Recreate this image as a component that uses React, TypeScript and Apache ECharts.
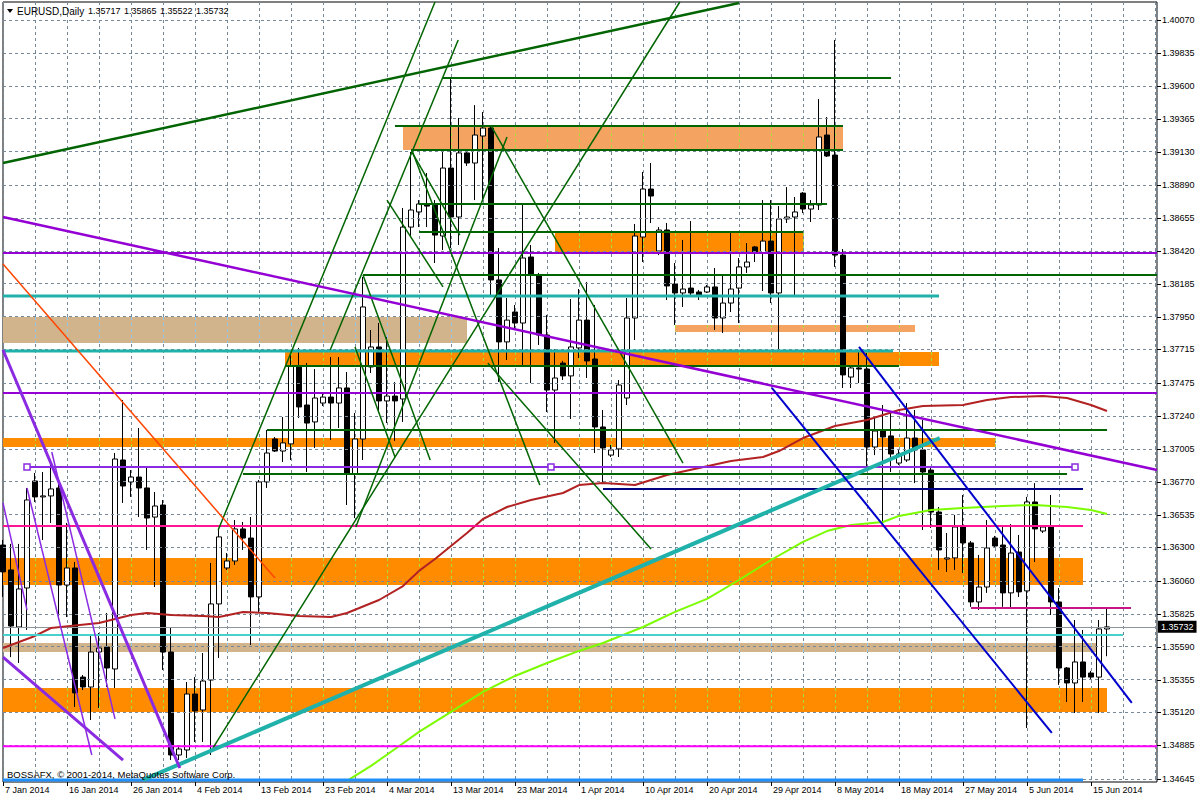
import React, { useEffect, useRef } from "react";
import * as echarts from "echarts";

const FONT = "Liberation Sans";

// date labels, one every 8 daily bars (Sunday bars included)
const dateLabels = ["7 Jan 2014", "16 Jan 2014", "26 Jan 2014", "4 Feb 2014", "13 Feb 2014", "23 Feb 2014", "4 Mar 2014", "13 Mar 2014", "23 Mar 2014", "1 Apr 2014", "10 Apr 2014", "20 Apr 2014", "29 Apr 2014", "8 May 2014", "18 May 2014", "27 May 2014", "5 Jun 2014", "15 Jun 2014"];

const priceTicks = [1.4007, 1.39835, 1.396, 1.39365, 1.3913, 1.3889, 1.38655, 1.3842, 1.38185, 1.3795, 1.37715, 1.37475, 1.3724, 1.37005, 1.3677, 1.36535, 1.363, 1.3606, 1.35825, 1.3559, 1.35355, 1.3512, 1.34885, 1.34645];

const opens = [1.36317, 1.36139, 1.35731, 1.3601, 1.36775, 1.36661, 1.36668, 1.36725, 1.36031, 1.36153, 1.35373, 1.35302, 1.35552, 1.35588, 1.35431, 1.36925, 1.36768, 1.36803, 1.36725, 1.36517, 1.36603, 1.35552, 1.34816, 1.34852, 1.35252, 1.35138, 1.35352, 1.35896, 1.36153, 1.36203, 1.36432, 1.36367, 1.35946, 1.36768, 1.37075, 1.36989, 1.3704, 1.37597, 1.37318, 1.37197, 1.37332, 1.37375, 1.37332, 1.3744, 1.36825, 1.37075, 1.3759, 1.37733, 1.37347, 1.37382, 1.37361, 1.3859, 1.38698, 1.38748, 1.38755, 1.38526, 1.39012, 1.38662, 1.3912, 1.39048, 1.39241, 1.39298, 1.38212, 1.37769, 1.37983, 1.37904, 1.38376, 1.38247, 1.37818, 1.37425, 1.37618, 1.37526, 1.37726, 1.37925, 1.37647, 1.37161, 1.3696, 1.37004, 1.37368, 1.3794, 1.38519, 1.38862, 1.38419, 1.38569, 1.38183, 1.38119, 1.38154, 1.38126, 1.38126, 1.38162, 1.3794, 1.38047, 1.38154, 1.38305, 1.38448, 1.38405, 1.3849, 1.38119, 1.38648, 1.38662, 1.38833, 1.38719, 1.38748, 1.39248, 1.39105, 1.3839, 1.37518, 1.37583, 1.37575, 1.37018, 1.37132, 1.37097, 1.36903, 1.36925, 1.37082, 1.36997, 1.36853, 1.36553, 1.36217, 1.36225, 1.36446, 1.36332, 1.3591, 1.36017, 1.36367, 1.36317, 1.35975, 1.36267, 1.35989, 1.36625, 1.36417, 1.36446, 1.3591, 1.35438, 1.35331, 1.35481, 1.35402, 1.35373, 1.35717];
const closes = [1.36125, 1.35738, 1.36003, 1.36639, 1.36661, 1.36668, 1.36718, 1.36031, 1.36153, 1.3526, 1.35302, 1.35552, 1.35581, 1.35438, 1.36932, 1.36739, 1.36803, 1.36725, 1.3651, 1.36596, 1.35552, 1.34816, 1.34859, 1.35252, 1.35131, 1.35345, 1.35896, 1.36375, 1.36203, 1.36432, 1.36367, 1.35946, 1.36768, 1.36975, 1.36989, 1.37047, 1.37597, 1.37304, 1.37189, 1.37368, 1.37375, 1.37332, 1.3744, 1.36825, 1.37075, 1.38019, 1.37733, 1.37347, 1.37382, 1.37347, 1.3859, 1.38712, 1.38755, 1.3874, 1.38533, 1.39012, 1.38662, 1.3912, 1.39048, 1.39248, 1.39298, 1.38212, 1.37769, 1.37925, 1.37904, 1.38369, 1.38247, 1.37818, 1.37425, 1.37511, 1.37526, 1.37733, 1.37925, 1.37633, 1.37161, 1.37011, 1.36997, 1.37461, 1.3794, 1.38526, 1.38862, 1.38812, 1.38569, 1.38169, 1.38119, 1.38147, 1.38119, 1.38104, 1.38162, 1.3794, 1.38047, 1.38147, 1.38305, 1.3834, 1.38405, 1.3849, 1.38119, 1.38648, 1.38662, 1.38698, 1.38719, 1.38748, 1.39234, 1.39098, 1.3839, 1.37533, 1.37583, 1.37575, 1.37018, 1.37132, 1.37089, 1.36968, 1.36968, 1.37082, 1.36997, 1.36839, 1.36553, 1.36282, 1.36225, 1.36446, 1.36332, 1.3591, 1.36017, 1.36296, 1.3631, 1.35975, 1.3626, 1.35982, 1.36625, 1.36432, 1.36446, 1.3591, 1.35438, 1.35331, 1.35481, 1.35373, 1.35373, 1.35717, 1.35732];
const highs = [1.36353, 1.36325, 1.36325, 1.36725, 1.36832, 1.36839, 1.36925, 1.36782, 1.36475, 1.36196, 1.35388, 1.35674, 1.35688, 1.35831, 1.36975, 1.37354, 1.36853, 1.37154, 1.36868, 1.36696, 1.36639, 1.35724, 1.34887, 1.35338, 1.35373, 1.35545, 1.36189, 1.36439, 1.3626, 1.36496, 1.36482, 1.36517, 1.36782, 1.37139, 1.37089, 1.37232, 1.37675, 1.37726, 1.37618, 1.37575, 1.37404, 1.37661, 1.37661, 1.37554, 1.37261, 1.38233, 1.37854, 1.37904, 1.37804, 1.37482, 1.38726, 1.39127, 1.38783, 1.38976, 1.38783, 1.39141, 1.39655, 1.3937, 1.39127, 1.39462, 1.39412, 1.39312, 1.3844, 1.38083, 1.38033, 1.38748, 1.38462, 1.38262, 1.37961, 1.37718, 1.37633, 1.38076, 1.38147, 1.38197, 1.38033, 1.37282, 1.37032, 1.37497, 1.38083, 1.38612, 1.38984, 1.39048, 1.3859, 1.38619, 1.38333, 1.38498, 1.38633, 1.3814, 1.38176, 1.38297, 1.38247, 1.38548, 1.38369, 1.38476, 1.38455, 1.38783, 1.38783, 1.3874, 1.38876, 1.38805, 1.3884, 1.38783, 1.39505, 1.39377, 1.39927, 1.38433, 1.37597, 1.37697, 1.3769, 1.37225, 1.37318, 1.37261, 1.37004, 1.37332, 1.37282, 1.37211, 1.36875, 1.36589, 1.36403, 1.36532, 1.36675, 1.36346, 1.36246, 1.36496, 1.36382, 1.3646, 1.36467, 1.36389, 1.36661, 1.3676, 1.3646, 1.36675, 1.3601, 1.35445, 1.35781, 1.3571, 1.35417, 1.35781, 1.35865];
const lows = [1.35946, 1.35516, 1.35474, 1.3571, 1.36625, 1.36353, 1.36475, 1.35781, 1.35802, 1.35159, 1.35281, 1.35066, 1.35152, 1.35302, 1.35295, 1.36618, 1.36661, 1.36517, 1.36282, 1.36017, 1.35424, 1.3478, 1.3478, 1.34795, 1.34909, 1.34909, 1.34816, 1.3551, 1.36139, 1.36175, 1.36282, 1.35602, 1.35831, 1.36725, 1.36982, 1.36911, 1.36925, 1.37225, 1.36839, 1.37011, 1.37311, 1.37068, 1.37154, 1.36603, 1.3651, 1.36925, 1.37547, 1.37261, 1.37189, 1.37061, 1.37197, 1.38526, 1.3859, 1.3859, 1.38333, 1.38426, 1.3844, 1.38462, 1.39027, 1.38783, 1.38783, 1.38104, 1.37482, 1.3764, 1.37854, 1.37604, 1.37475, 1.37747, 1.37268, 1.37047, 1.37497, 1.37218, 1.37654, 1.37511, 1.36975, 1.36768, 1.36946, 1.36946, 1.37318, 1.37783, 1.3834, 1.38619, 1.3839, 1.38069, 1.3789, 1.38019, 1.38104, 1.38069, 1.38119, 1.37854, 1.37833, 1.37983, 1.37904, 1.38262, 1.3834, 1.38133, 1.38047, 1.37711, 1.38619, 1.38104, 1.3869, 1.38626, 1.38712, 1.39091, 1.38305, 1.3744, 1.3744, 1.37475, 1.36875, 1.3696, 1.3646, 1.36839, 1.36889, 1.36911, 1.3676, 1.36425, 1.36439, 1.36139, 1.36125, 1.36139, 1.36117, 1.35875, 1.35853, 1.35975, 1.36296, 1.35875, 1.35867, 1.35946, 1.35009, 1.36196, 1.36403, 1.35817, 1.35317, 1.35195, 1.35116, 1.35195, 1.35352, 1.35116, 1.35522];

// moving averages read at selected bars: [bar, price]
const maRed = [[0, 1.35581], [4, 1.35667], [6, 1.35724], [12, 1.3576], [16, 1.35817], [18, 1.35831], [21, 1.35817], [25, 1.3581], [27, 1.35802], [30, 1.35839], [33, 1.35831], [37, 1.3581], [41, 1.35802], [43, 1.35831], [47, 1.35924], [50, 1.36024], [52, 1.36132], [54, 1.36217], [56, 1.3631], [58, 1.36403], [60, 1.36503], [63, 1.36589], [66, 1.36639], [70, 1.36689], [72, 1.36746], [75, 1.3676], [79, 1.36746], [83, 1.36818], [87, 1.36868], [91, 1.36918], [95, 1.36946], [97, 1.36989], [100, 1.37082], [104, 1.37168], [108, 1.37211], [112, 1.37282], [115, 1.37311], [120, 1.37318], [123, 1.37354], [126, 1.37375], [130, 1.37382], [133, 1.37368], [136, 1.37318], [138, 1.37275]];
const maGreen = [[43, 1.34631], [46, 1.34738], [49, 1.34859], [52, 1.34981], [56, 1.35124], [60, 1.35267], [64, 1.35381], [68, 1.35474], [72, 1.3556], [75, 1.35617], [80, 1.35731], [84, 1.35839], [88, 1.35932], [92, 1.36067], [96, 1.3621], [100, 1.36339], [103, 1.36417], [106, 1.3646], [110, 1.36482], [112, 1.36525], [116, 1.36568], [120, 1.36582], [125, 1.36596], [129, 1.36603], [131, 1.36596], [133, 1.36589], [136, 1.36568], [138, 1.36539]];

// zones: [top price, bottom price, from bar, to bar]
const orangeZones = [[1.38548, 1.38412, 69, 100], [1.37697, 1.37597, 35.25, 117], [1.37082, 1.37018, 0, 124], [1.36225, 1.36031, 0, 135], [1.35295, 1.35124, 0, 138]];
const tanZones = [[1.37947, 1.37761, 0, 58], [1.35617, 1.35553, 0, 136.75]];
const sandyZones = [[1.39305, 1.39141, 50, 105], [1.3789, 1.3784, 84, 114]];

// horizontal levels: [price, from bar, to bar]
const greenLevels = [[1.39655, 55, 111], [1.39312, 49, 105], [1.39141, 51, 105], [1.38755, 52, 103], [1.38555, 52, 100], [1.38247, 45, 144.25], [1.37597, 35.25, 112], [1.37139, 33, 138], [1.36825, 30, 133]];
const violetLevels = [[1.38405, 0, 144.25], [1.37404, 0, 144.25]];
const seaGreenLevels = [[1.38097, 0, 117], [1.37704, 0, 111.25]];
const turquoiseLevels = [[1.35674, 0, 140]];
const pinkLevels = [[1.36453, 0, 135]];
const crimsonLevels = [[1.35867, 121, 141]];
const navyLevels = [[1.36718, 75, 135]];
const magentaLevels = [[1.34878, 0, 144.25]];
const blueLevels = [[1.34638, 0, 135]];
const markedLevel = [[3, 1.36875], [68.5, 1.36875], [134, 1.36875]];

// trend lines: [[bar, price], [bar, price]]
const greenTrends = [
  [[26.25, 1.34867], [84.6, 1.40199]],
  [[26.9, 1.36425], [54, 1.40199]],
  [[40.9, 1.37711], [56.9, 1.39927]],
  [[61.1, 1.39305], [85, 1.36903]],
  [[51.1, 1.39141], [67.1, 1.36746]],
  [[44.1, 1.36446], [63, 1.39234]],
  [[51.1, 1.39127], [57.1, 1.38533]],
  [[48, 1.38783], [55, 1.38162]],
  [[45, 1.38247], [53.4, 1.36925]],
  [[44, 1.37733], [49, 1.36946]],
  [[60.6, 1.37618], [81, 1.36289]],
];
const wideGreenTrends = [[[0, 1.39048], [92, 1.40192]]];
const violetTrends = [[[0, 1.38662], [144.25, 1.36853]]];
const orangeRedTrends = [[[0, 1.38326], [34, 1.36081]]];
const seaGreenTrends = [[[17.5, 1.34638], [117.1, 1.37082]]];
const blueTrends = [[[96.1, 1.3744], [131.1, 1.34974]], [[107, 1.37733], [141.1, 1.35188]]];
const purpleThick = [[[0, 1.37711], [22.1, 1.34723]], [[0, 1.35516], [15, 1.3478]]];
const purpleThin = [[[0, 1.36618], [3, 1.35853]], [[3, 1.36725], [11.1, 1.34816]], [[6.1, 1.36982], [14, 1.35074]]];

const X_MAX = 144.25;
const Y_MIN = 1.34623;
const Y_MAX = 1.40199;

function lineS(data: any[], color: string, width: number, z = 7, extra: any = {}) {
  return { type: "line", data, symbol: "none", silent: true, z, animation: false, lineStyle: { color, width }, ...extra };
}

export default function App() {
  const ref = useRef<HTMLDivElement>(null);
  useEffect(() => {
    if (!ref.current) return;
    const chart = echarts.init(ref.current, undefined, { renderer: "svg" });
    const n = opens.length;
    const candles = opens.map((o, i) => [i, o, closes[i], lows[i], highs[i]]);
    const series: any[] = [];

    // grid lines + price scale labels + current price
    series.push({
      type: "line", data: [], silent: true, z: 1, animation: false,
      markLine: {
        symbol: "none", silent: true, animation: false, precision: 5,
        lineStyle: { color: "#778899", type: [3, 3], width: 1 },
        label: { position: "end", distance: 5, fontSize: 9, color: "#000", fontFamily: FONT, formatter: (p: any) => Number(p.value).toFixed(5) },
        data: [
          ...priceTicks.map((v) => ({ yAxis: v })),
          {
            yAxis: closes[n - 1],
            lineStyle: { color: "#8c959e", type: "solid", width: 1 },
            label: { position: "end", distance: 1, backgroundColor: "#000", color: "#fff", padding: [2, 3, 1, 3], fontSize: 9, fontFamily: FONT, formatter: (p: any) => Number(p.value).toFixed(5) },
          },
        ],
      },
    });

    // small scale ticks outside the plot (price scale and date scale)
    series.push({
      type: "custom", data: priceTicks.map((v) => [X_MAX, v]), z: 1, silent: true, animation: false, clip: false,
      encode: { x: 0, y: 1 },
      renderItem: (params: any, api: any) => {
        const p = api.coord([api.value(0), api.value(1)]);
        const y = Math.round(p[1]) + 0.5;
        return { type: "line", shape: { x1: p[0], y1: y, x2: p[0] + 4, y2: y }, style: { stroke: "#000", lineWidth: 1 } };
      },
    });
    series.push({
      type: "custom", data: dateLabels.map((_, i) => [i * 8, Y_MIN]), z: 1, silent: true, animation: false, clip: false,
      encode: { x: 0, y: 1 },
      renderItem: (params: any, api: any) => {
        const p = api.coord([api.value(0), api.value(1)]);
        const x = Math.round(p[0]) + 0.5;
        return { type: "line", shape: { x1: x, y1: p[1], x2: x, y2: p[1] + 4 }, style: { stroke: "#000", lineWidth: 1 } };
      },
    });

    const zoneItems = (zs: number[][], color: string) =>
      zs.map((z) => [{ xAxis: z[2], yAxis: z[0], itemStyle: { color, opacity: 1 } }, { xAxis: z[3], yAxis: z[1] }]);
    series.push({
      type: "line", data: [], silent: true, z: 2, animation: false,
      markArea: {
        silent: true, animation: false, precision: 5,
        data: [...zoneItems(orangeZones, "#FF8C00"), ...zoneItems(tanZones, "#D2B48C"), ...zoneItems(sandyZones, "#F4A460")],
      },
    });

    // grid dashes seen through the zones (the terminal draws them inverted)
    const zoneGridData = [
      ...orangeZones.map((z) => [z[2], z[3], z[0], z[1], 0]),
      ...sandyZones.map((z) => [z[2], z[3], z[0], z[1], 0]),
      ...tanZones.map((z) => [z[2], z[3], z[0], z[1], 1]),
    ];
    series.push({
      type: "custom", data: zoneGridData, z: 3, silent: true, animation: false,
      encode: { x: [0, 1], y: [2, 3] },
      renderItem: (params: any, api: any) => {
        const k1 = api.value(0), k2 = api.value(1), top = api.value(2), bot = api.value(3);
        const color = api.value(4) === 1 ? "#8fc8f0" : "#a8e040";
        const children: any[] = [];
        for (let g = Math.max(4, Math.ceil(k1 / 4) * 4); g <= k2; g += 4) {
          const a = api.coord([g, top]);
          const b = api.coord([g, bot]);
          children.push({ type: "line", shape: { x1: Math.round(a[0]) + 0.5, y1: a[1], x2: Math.round(b[0]) + 0.5, y2: b[1] }, style: { stroke: color, lineWidth: 1, lineDash: [3, 3] } });
        }
        return { type: "group", children };
      },
    });

    series.push({
      type: "candlestick", data: candles, encode: { x: 0, y: [1, 2, 3, 4] }, z: 4, silent: true, animation: false,
      barWidth: 5,
      itemStyle: { color: "#ffffff", color0: "#000000", borderColor: "#000000", borderColor0: "#000000", borderWidth: 1 },
    });

    series.push(lineS(maRed, "#B22222", 2, 5));
    series.push(lineS(maGreen, "#7CFC00", 2, 5));

    const levels = (ls: number[][], color: string, width: number) =>
      ls.forEach((l) => series.push(lineS([[l[1], l[0]], [l[2], l[0]]], color, width)));
    levels(greenLevels, "#006400", 2);
    levels(violetLevels, "#9400D3", 2);
    levels(seaGreenLevels, "#20B2AA", 3);
    levels(turquoiseLevels, "#48D1CC", 2);
    levels(pinkLevels, "#FF1493", 2);
    levels(crimsonLevels, "#C71585", 2);
    levels(navyLevels, "#000080", 2);
    levels(magentaLevels, "#FF00FF", 2);
    levels(blueLevels, "#1E90FF", 3);
    series.push(lineS(markedLevel, "#8A2BE2", 2, 7, {
      symbol: "rect", symbolSize: 6, showSymbol: true,
      itemStyle: { color: "#ffffff", borderColor: "#8A2BE2", borderWidth: 1.5 },
    }));

    const trends = (ts: number[][][], color: string, width: number) => ts.forEach((t) => series.push(lineS(t, color, width)));
    trends(greenTrends, "#006400", 1.5);
    trends(wideGreenTrends, "#006400", 2.5);
    trends(violetTrends, "#9400D3", 2.5);
    trends(orangeRedTrends, "#FF4500", 1.5);
    trends(seaGreenTrends, "#20B2AA", 4);
    trends(blueTrends, "#0000CD", 2);
    trends(purpleThick, "#8A2BE2", 3);
    trends(purpleThin, "#8A2BE2", 1.5);

    const last = n - 1;
    const ohlc = [opens[last], highs[last], lows[last], closes[last]];

    chart.setOption({
      animation: false,
      backgroundColor: "#ffffff",
      grid: { left: 3, right: 43, top: 2, bottom: 18, show: true, borderColor: "#000", borderWidth: 1, backgroundColor: "#fff", containLabel: false },
      xAxis: {
        type: "value", min: 0, max: X_MAX, interval: 4,
        axisLine: { show: false }, axisTick: { show: false },
        splitLine: { show: true, lineStyle: { color: "#778899", type: [3, 3], width: 1 } },
        axisLabel: {
          show: true, align: "left", margin: 3, fontSize: 9, color: "#000", fontFamily: FONT, showMaxLabel: false, padding: [0, 0, 0, 2],
          formatter: (v: number) => (Math.abs(v % 8) < 1e-6 && dateLabels[v / 8] ? dateLabels[v / 8] : ""),
        },
      },
      yAxis: {
        type: "value", position: "right", min: Y_MIN, max: Y_MAX, scale: true,
        axisLine: { show: false }, axisTick: { show: false }, axisLabel: { show: false }, splitLine: { show: false },
      },
      graphic: [
        { type: "polygon", shape: { points: [[7, 9], [13, 9], [10, 13]] }, style: { fill: "#000" }, z: 100 },
        { type: "text", left: 17, top: 6, style: { text: "EURUSD,Daily", fontSize: 10, fontFamily: FONT, fill: "#000" }, z: 100 },
        ...ohlc.map((v, i) => ({ type: "text", left: 88 + i * 36, top: 6, style: { text: v.toFixed(5), fontSize: 9, fontFamily: FONT, fill: "#000" }, z: 100 })),
        { type: "text", left: 7, top: 769, style: { text: "BOSSAFX, © 2001-2014, MetaQuotes Software Corp.", fontSize: 9.5, fontFamily: FONT, fill: "#000" }, z: 100 },
      ],
      series,
    });
    return () => chart.dispose();
  }, []);
  return <div ref={ref} style={{ position: "fixed", left: 0, top: 0, width: 1200, height: 800, background: "#fff" }} />;
}
